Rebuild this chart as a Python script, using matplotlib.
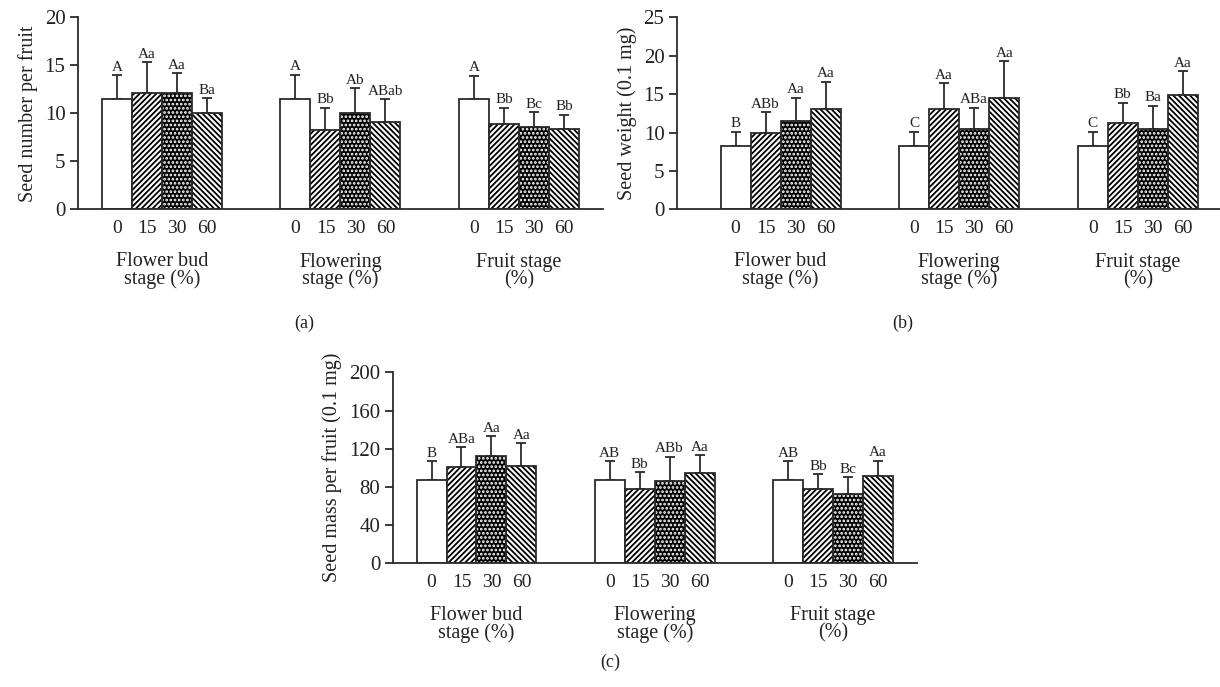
import matplotlib
matplotlib.use("Agg")
import matplotlib.pyplot as plt
import numpy as np

plt.rcParams['font.family'] = ['Liberation Serif', 'DejaVu Serif']
plt.rcParams['hatch.linewidth'] = 1.3

groups = ["Flower bud\nstage (%)", "Flowering\nstage (%)", "Fruit stage\n(%)"]
levels = ["0", "15", "30", "60"]

# Panel (a): seed number per fruit
a_mean = [[11.5, 12.1, 12.1, 10.0],
          [11.5, 8.3, 10.0, 9.1],
          [11.5, 8.85, 8.6, 8.4]]
a_err = [[2.45, 3.2, 2.1, 1.6],
         [2.5, 2.3, 2.6, 2.35],
         [2.4, 1.75, 1.5, 1.45]]
a_lab = [["A", "Aa", "Aa", "Ba"],
         ["A", "Bb", "Ab", "ABab"],
         ["A", "Bb", "Bc", "Bb"]]

# Panel (b): seed weight
b_mean = [[8.3, 10.0, 11.5, 13.0],
          [8.3, 13.1, 10.4, 14.45],
          [8.3, 11.25, 10.4, 14.9]]
b_err = [[1.8, 2.65, 3.0, 3.6],
         [1.8, 3.3, 2.8, 4.85],
         [1.8, 2.65, 3.05, 3.1]]
b_lab = [["B", "ABb", "Aa", "Aa"],
         ["C", "Aa", "ABa", "Aa"],
         ["C", "Bb", "Ba", "Aa"]]

# Panel (c): seed mass per fruit
c_mean = [[87.5, 100.5, 112.0, 102.0],
          [87.5, 78.0, 86.5, 95.0],
          [87.2, 78.0, 72.2, 91.0]]
c_err = [[19.6, 21.3, 21.3, 23.7],
         [19.6, 17.3, 25.1, 18.0],
         [19.9, 15.2, 17.8, 16.4]]
c_lab = [["B", "ABa", "Aa", "Aa"],
         ["AB", "Bb", "ABb", "Aa"],
         ["AB", "Bb", "Bc", "Aa"]]

W, H = 1220, 687
fig = plt.figure(figsize=(W / 100, H / 100), dpi=100)

def px_axes(x0, x1, y_top, y_bot):
    return fig.add_axes([x0 / W, 1 - y_bot / H, (x1 - x0) / W, (y_bot - y_top) / H])

BW = 0.168
GRAY = '#2b2b2b'
TXT = '#222222'

def draw(ax, means, errs, labs, ymax, ystep, ylabel, xlim, label_off):
    for g in range(3):
        for k in range(4):
            x = g + (k - 1.5) * BW
            m = means[g][k]
            e = errs[g][k]
            ax.errorbar(x, m, yerr=[[0], [e]], fmt='none', ecolor=GRAY,
                        elinewidth=1.3, capsize=3.5, capthick=1.3, zorder=1)
            if k == 0:
                ax.bar(x, m, BW, facecolor='white', edgecolor=GRAY, linewidth=1.3, zorder=2)
            elif k == 1:
                ax.bar(x, m, BW, facecolor='white', edgecolor='black', hatch='//////',
                       linewidth=0, zorder=2)
                ax.bar(x, m, BW, fill=False, edgecolor=GRAY, linewidth=1.3, zorder=3)
            elif k == 2:
                ax.bar(x, m, BW, facecolor='black', edgecolor='white', hatch='....',
                       linewidth=0, zorder=2)
                ax.bar(x, m, BW, fill=False, edgecolor=GRAY, linewidth=1.3, zorder=3)
            else:
                ax.bar(x, m, BW, facecolor='white', edgecolor='black', hatch='\\\\\\\\\\\\',
                       linewidth=0, zorder=2)
                ax.bar(x, m, BW, fill=False, edgecolor=GRAY, linewidth=1.3, zorder=3)
            ax.text(x, m + e + label_off, labs[g][k], ha='center', va='bottom',
                    fontsize=11, color=TXT)
            ax.text(x, -0.1 * ymax, levels[k], ha='center', va='center',
                    fontsize=14, color=TXT)
        ax.text(g, -0.225 * ymax, groups[g], ha='center', va='top',
                fontsize=14.5, color=TXT, linespacing=0.88)
    ax.set_xlim(*xlim)
    ax.set_ylim(0, ymax)
    ax.set_yticks(np.arange(0, ymax + ystep / 2, ystep))
    ax.set_xticks([])
    for s in ['top', 'right']:
        ax.spines[s].set_visible(False)
    for s in ['left', 'bottom']:
        ax.spines[s].set_color(GRAY)
        ax.spines[s].set_linewidth(1.3)
    ax.tick_params(axis='y', direction='out', length=6, width=1.3, color=GRAY,
                   labelsize=15, labelcolor=TXT, pad=3)
    ax.set_ylabel(ylabel, fontsize=14.5, color=TXT, labelpad=5)
    ax.patch.set_alpha(0)

ax_a = px_axes(78, 603, 17.3, 209.3)
draw(ax_a, a_mean, a_err, a_lab, 20, 5, "Seed number per fruit", (-0.47, 2.47), 0.15)

ax_b = px_axes(677, 1220, 17.3, 209.3)
draw(ax_b, b_mean, b_err, b_lab, 25, 5, "Seed weight (0.1 mg)", (-0.58, 2.46), 0.2)

ax_c = px_axes(392.7, 916.7, 372.3, 563.3)
draw(ax_c, c_mean, c_err, c_lab, 200, 40, "Seed mass per fruit (0.1 mg)", (-0.47, 2.47), 1.5)

fig.text(304 / W, 1 - 323 / H, "(a)", ha='center', va='center', fontsize=13, color=TXT)
fig.text(903 / W, 1 - 323 / H, "(b)", ha='center', va='center', fontsize=13, color=TXT)
fig.text(610 / W, 1 - 662 / H, "(c)", ha='center', va='center', fontsize=13, color=TXT)

fig.savefig("out.png", dpi=100)
